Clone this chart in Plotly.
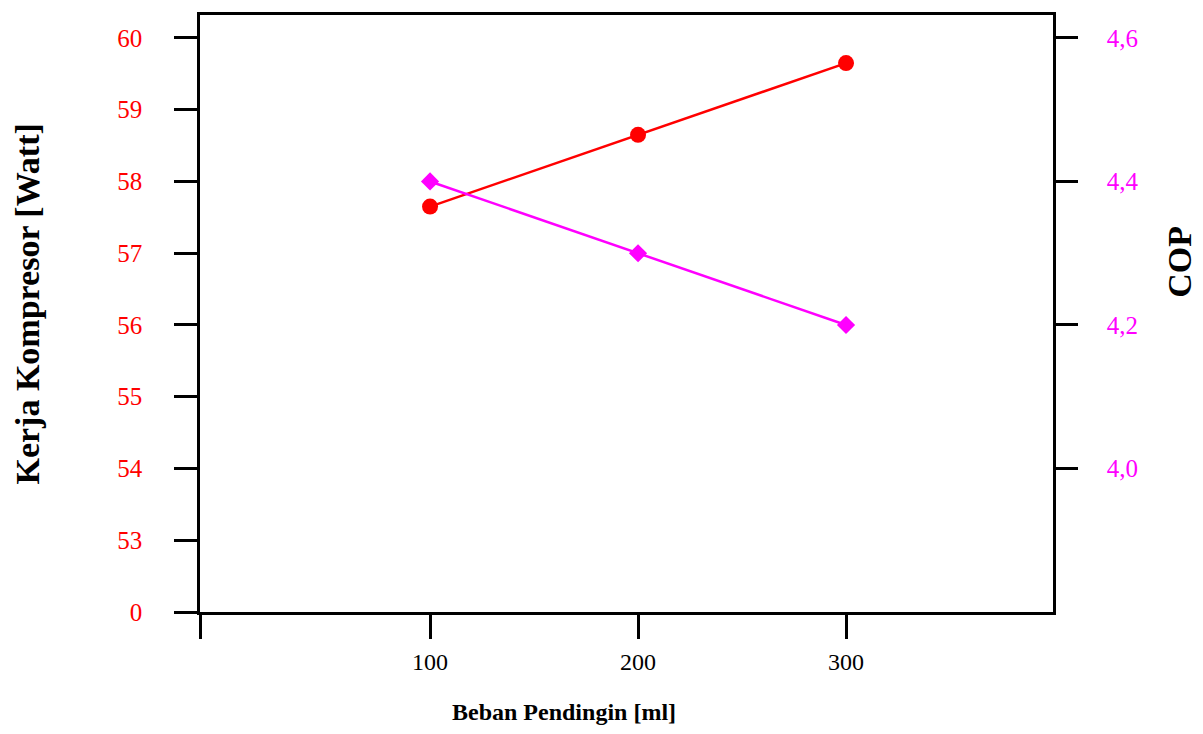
import plotly.graph_objects as go

beban = [100, 200, 300]
kerja = [57.65, 58.65, 59.65]
cop = [4.4, 4.3, 4.2]

y1_ticks = [52, 53, 54, 55, 56, 57, 58, 59, 60]
y1_text = ["0", "53", "54", "55", "56", "57", "58", "59", "60"]
y2_ticks = [4.0, 4.2, 4.4, 4.6]
y2_text = ["4,0", "4,2", "4,4", "4,6"]
x_left = -10.6
x_ticks = [x_left, 100, 200, 300]
x_text = ["", "100", "200", "300"]

font = "Liberation Serif"

# page body has an 8px margin; the figure is shifted accordingly
OFF = 8
W, H = 1203 - OFF, 734 - OFF
L, T, R, B = 200 - OFF, 12 - OFF, 1053 - OFF, 612 - OFF
pw, ph = R - L, B - T

fig = go.Figure()
fig.add_trace(go.Scatter(x=beban, y=kerja, mode="lines+markers",
                         line=dict(color="#ff0000", width=2.5),
                         marker=dict(symbol="circle", size=16, color="#ff0000"),
                         yaxis="y", showlegend=False))
fig.add_trace(go.Scatter(x=beban, y=cop, mode="lines+markers",
                         line=dict(color="#ff00ff", width=2.5),
                         marker=dict(symbol="diamond", size=14, color="#ff00ff"),
                         yaxis="y2", showlegend=False))

fig.update_layout(
    width=W, height=H,
    margin=dict(l=L, r=W - R, t=T, b=H - B, pad=0),
    plot_bgcolor="white", paper_bgcolor="white",
    font=dict(family=font, color="black"),
    xaxis=dict(range=[x_left, 399.5], tickvals=x_ticks, ticktext=x_text,
               showline=True, linecolor="black", linewidth=2.5, mirror=True,
               ticks="outside", ticklen=24, tickwidth=2.5, tickcolor="black",
               showgrid=False, zeroline=False,
               tickfont=dict(family=font, size=24, color="black"),
               ticklabelstandoff=2),
    yaxis=dict(range=[52, 60.32], tickvals=y1_ticks, ticktext=y1_text,
               showline=True, linecolor="black", linewidth=2.5,
               ticks="outside", ticklen=23, tickwidth=2.5, tickcolor="black",
               showgrid=False, zeroline=False,
               tickfont=dict(family=font, size=25, color="#ff0000"),
               ticklabelstandoff=27),
    yaxis2=dict(range=[3.8, 4.632], tickvals=y2_ticks, ticktext=y2_text,
                overlaying="y", side="right",
                showline=True, linecolor="black", linewidth=2.5,
                ticks="outside", ticklen=22, tickwidth=2.5, tickcolor="black",
                showgrid=False, zeroline=False,
                tickfont=dict(family=font, size=25, color="#ff00ff"),
                ticklabelstandoff=24),
    annotations=[
        dict(text="<b>Beban Pendingin [ml]</b>", xref="paper", yref="paper",
             x=(564 - 200) / pw, y=-(713 - 612) / ph, showarrow=False,
             xanchor="center", yanchor="middle",
             font=dict(family=font, size=24, color="black")),
        dict(text="<b>Kerja Kompresor [Watt]</b>", xref="paper", yref="paper",
             x=-(200 - 28) / pw, y=(612 - 303) / ph, showarrow=False,
             textangle=-90, xanchor="center", yanchor="middle",
             font=dict(family=font, size=34, color="black")),
        dict(text="<b>COP</b>", xref="paper", yref="paper",
             x=1 + (1180 - 1053) / pw, y=(612 - 260) / ph, showarrow=False,
             textangle=-90, xanchor="center", yanchor="middle",
             font=dict(family=font, size=34, color="black")),
    ],
)

fig.write_html("out.html")
